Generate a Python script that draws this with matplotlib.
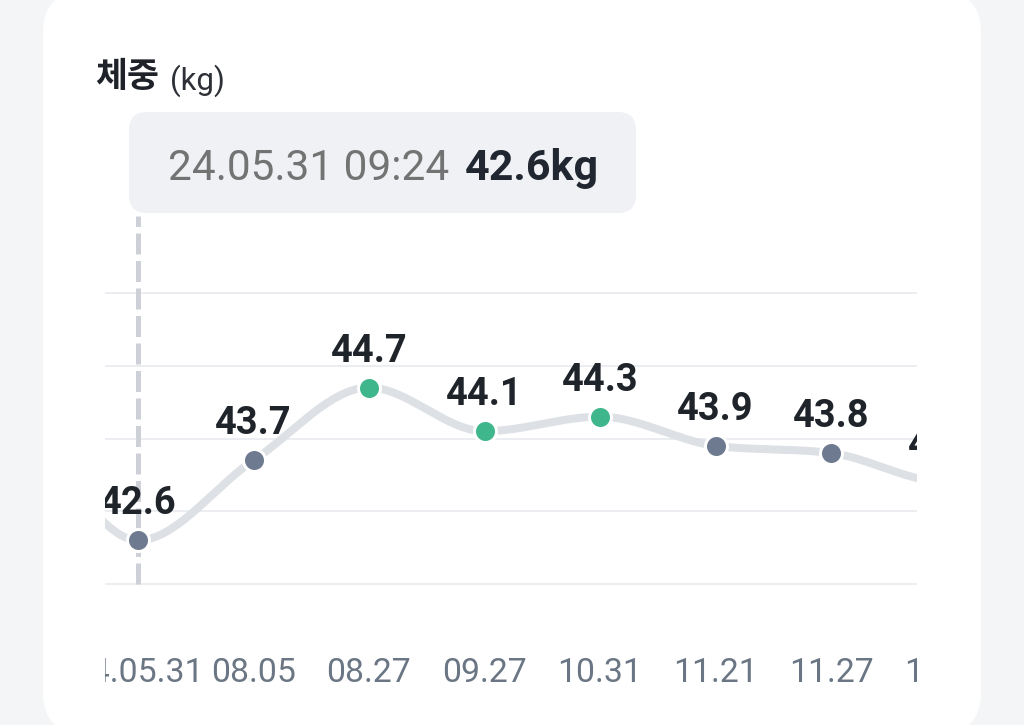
import numpy as np
import matplotlib.pyplot as plt
import matplotlib.transforms as mtransforms
from matplotlib.patches import FancyBboxPatch

# data (first and last entries sit outside the visible, scrolled window)
dates = ["", "24.05.31", "08.05", "08.27", "09.27", "10.31", "11.21", "11.27", "12.03", ""]
weights = [43.8, 42.6, 43.7, 44.7, 44.1, 44.3, 43.9, 43.8, 43.4, 43.6]
grid_values = [42, 43, 44, 45, 46]
selected = 1
selected_time = "09:24"
unit = "kg"
title = "체중"

green = "#3fb68c"
slate = "#6e7a8f"
line_col = "#dde0e4"


def monotone_curve(x, y, n=40):
    # d3 style monotone cubic, flat at the ends
    x = np.asarray(x, float)
    y = np.asarray(y, float)
    h = np.diff(x)
    s = np.diff(y) / h
    m = np.zeros_like(y)
    for i in range(1, len(y) - 1):
        if s[i - 1] * s[i] > 0:
            p = (s[i - 1] * h[i] + s[i] * h[i - 1]) / (h[i - 1] + h[i])
            m[i] = 2 * np.sign(s[i]) * min(abs(s[i - 1]), abs(s[i]), 0.5 * abs(p))
    xs, ys = [], []
    for i in range(len(y) - 1):
        t = np.linspace(0, 1, n)
        h00 = 2 * t**3 - 3 * t**2 + 1
        h10 = t**3 - 2 * t**2 + t
        h01 = -2 * t**3 + 3 * t**2
        h11 = t**3 - t**2
        xs.append(x[i] + t * h[i])
        ys.append(h00 * y[i] + h10 * h[i] * m[i] + h01 * y[i + 1] + h11 * h[i] * m[i + 1])
    return np.concatenate(xs), np.concatenate(ys)


fig = plt.figure(figsize=(10.24, 7.25), dpi=100, facecolor="#f4f5f7")

# background layer in pixel units: card, title, tooltip
bg = fig.add_axes([0, 0, 1, 1])
bg.set_xlim(0, 1024)
bg.set_ylim(725, 0)
bg.axis("off")
bg.add_patch(FancyBboxPatch((43, -8), 938, 741, boxstyle="round,pad=0,rounding_size=40",
                            facecolor="white", edgecolor="none"))
bg.add_patch(FancyBboxPatch((129, 112), 507, 101, boxstyle="round,pad=0,rounding_size=18",
                            facecolor="#eff1f5", edgecolor="none"))
bg.text(95, 87, title, family=["Noto Sans CJK KR", "DejaVu Sans"], fontweight="bold",
        fontsize=25, color="#1f2329", va="baseline")
bg.text(170, 90, f"({unit})", family="Roboto", fontsize=22.5, color="#2d3137", va="baseline")
bg.text(168, 180, f"{dates[selected]} {selected_time}", family="Roboto", fontsize=30.5,
        color="#737373", va="baseline")
bg.text(465, 180, f"{weights[selected]}{unit}", family="Roboto", fontweight="bold",
        fontsize=31, color="#212730", va="baseline")

# chart area
x = np.arange(len(weights)) - 1
ax = fig.add_axes([105 / 1024, 25 / 725, 812 / 1024, 500 / 725])
ax.set_zorder(2)
ax.patch.set_alpha(0)
ax.set_xlim(-33 / 115.5, 779 / 115.5)
ax.set_ylim(42 - 116 / 72.75, 46 + 93 / 72.75)
ax.axis("off")

for g in grid_values:
    ax.axhline(g, color="#ebedf0", lw=1.44, zorder=1)

ax.axvline(x[selected], ymin=116 / 500, ymax=484 / 500, color="#cdd1d7", lw=3.6,
           dashes=(4.2, 1.3), solid_capstyle="butt", zorder=2)

cx, cy = monotone_curve(x, weights)
ax.plot(cx, cy, color=line_col, lw=5.76, solid_capstyle="round", zorder=3)

w = np.array(weights)
hi = w >= 44.0
for mask, col in [(hi, green), (~hi, slate)]:
    ax.plot(x[mask], w[mask], "o", ms=15.84, mfc=col, mec="white", mew=2.16, zorder=4)

lab_trans = mtransforms.offset_copy(ax.transData, fig=fig, y=26, units="dots")
for xi, wi in zip(x, weights):
    ax.text(xi, wi, f"{wi:.1f}", transform=lab_trans, ha="center", va="baseline",
            family="Roboto", fontweight="bold", fontsize=27.4, color="#1f242b",
            zorder=5, clip_on=True)

for xi, d in zip(x, dates):
    ax.text(xi, 18 / 500, d, transform=ax.get_xaxis_transform(), ha="center",
            va="baseline", family="Roboto", fontsize=24.3, color="#6b7684", clip_on=True)

fig.savefig("out.png", dpi=100, facecolor=fig.get_facecolor())
